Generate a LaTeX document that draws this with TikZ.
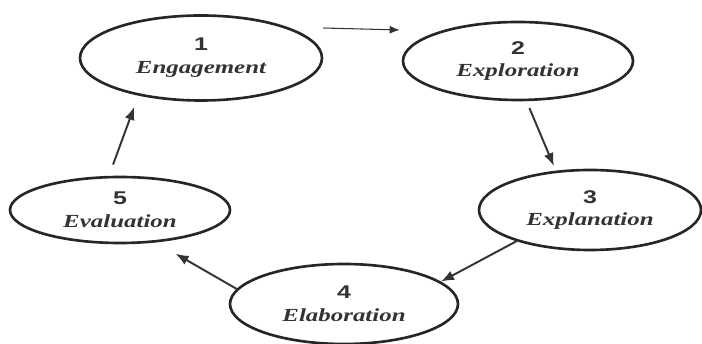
\documentclass[tikz,border=0pt]{standalone}
\usepackage{fontspec}
\usetikzlibrary{shapes.geometric,arrows.meta}
\newfontfamily\stepname[FakeStretch=1.35]{Liberation Serif}
\newfontfamily\stepnum[FakeStretch=1.35]{Liberation Sans}
\newcommand{\phasetext}[2]{{\stepnum\bfseries #1}\\{\stepname\bfseries\itshape #2}}
\tikzset{
  phase/.style={ellipse,draw=black!85,line width=1.5pt,inner sep=0pt,align=center,
    text=black!80,font=\fontsize{10.5}{13}\selectfont},
  cyc/.style={-{Latex[length=2.6mm,width=2mm]},line width=1.1pt,draw=black!80},
}
\begin{document}
\begin{tikzpicture}
  \useasboundingbox (0,0) rectangle (14.04,6.88);
  \node[phase,minimum width=4.84cm,minimum height=1.7cm] (e1) at (4.02,5.72) {\phasetext{1}{Engagement}};
  \node[phase,minimum width=4.6cm,minimum height=1.56cm] (e2) at (10.36,5.66) {\phasetext{2}{Exploration}};
  \node[phase,minimum width=4.44cm,minimum height=1.6cm] (e3) at (11.8,2.68) {\phasetext{3}{Explanation}};
  \node[phase,minimum width=4.56cm,minimum height=1.6cm] (e4) at (6.88,0.8) {\phasetext{4}{Elaboration}};
  \node[phase,minimum width=4.4cm,minimum height=1.32cm] (e5) at (2.4,2.68) {\phasetext{5}{Evaluation}};
  % cycle arrows
  \draw[cyc,line width=0.6pt,-{Latex[length=2mm,width=1.6mm]}] ([yshift=0.6cm]e1.east) -- ([xshift=-0.04cm,yshift=0.62cm]e2.west);
  \draw[cyc,shorten <=1.5mm,shorten >=1mm] (e2.-78) -- (e3.131);
  \draw[cyc] (e3.203) -- (e4.13);
  \draw[cyc,shorten >=4.5mm] (e4.172) -- (e5.-42);
  \draw[cyc,shorten <=2.4mm,shorten >=2.4mm] (e5.108) -- (e1.-149);
\end{tikzpicture}
\end{document}
